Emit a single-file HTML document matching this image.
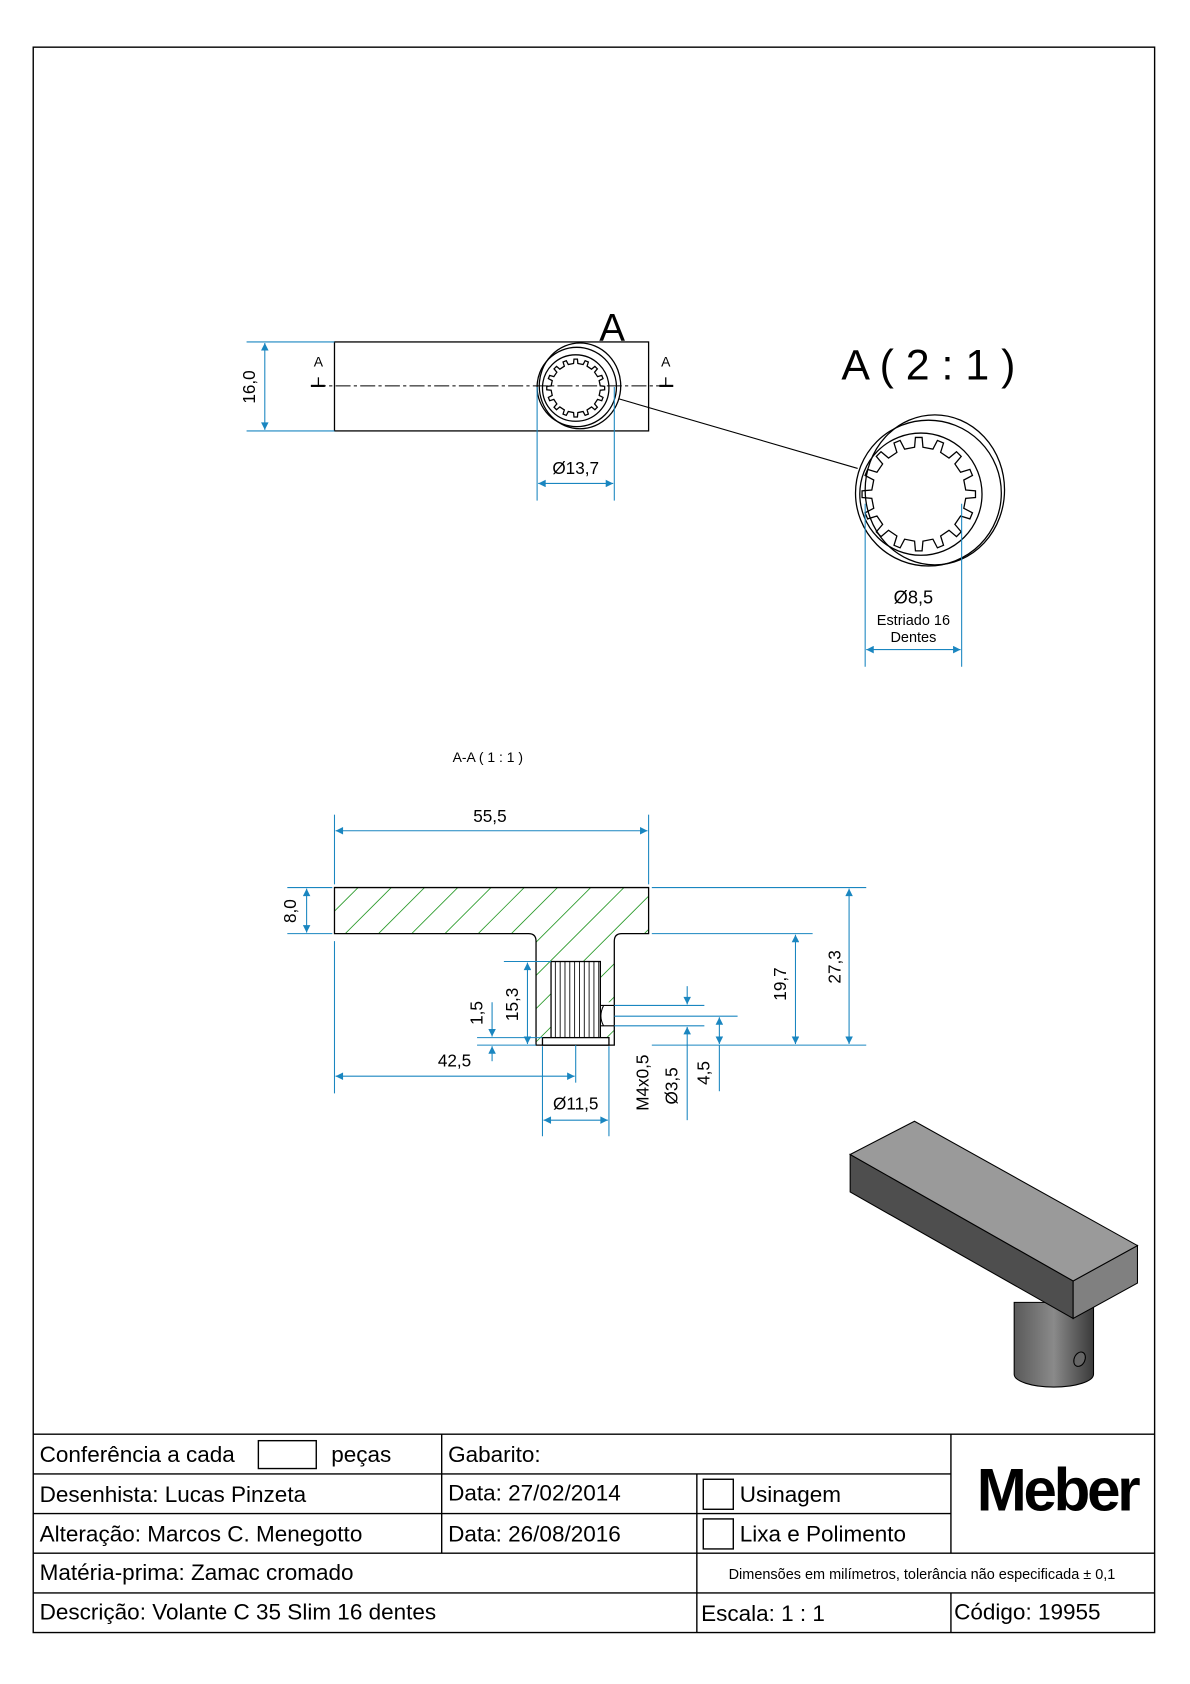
<!DOCTYPE html>
<html><head><meta charset="utf-8"><style>
html,body{margin:0;padding:0;background:#fff;}
svg{display:block;}
text{font-family:"Liberation Sans",sans-serif;}
</style></head><body>
<svg id="s" width="1190" height="1684" viewBox="0 0 1110 1571" preserveAspectRatio="none" xmlns="http://www.w3.org/2000/svg">
<defs>
<marker id="ar" viewBox="0 0 10 10" refX="10" refY="5" markerWidth="9" markerHeight="7" orient="auto-start-reverse" markerUnits="userSpaceOnUse"><path d="M0,0 L10,5 L0,10 z" fill="#1a86c0"/></marker>
<linearGradient id="cyl" x1="0" x2="1"><stop offset="0" stop-color="#5a5a5a"/><stop offset="0.5" stop-color="#8a8a8a"/><stop offset="1" stop-color="#3a3a3a"/></linearGradient>
<clipPath id="secClip"><path d="M312,828 H605 V871 H580 Q573,871 573,878 V975 H500 V878 Q500,871 493,871 H312 Z"/></clipPath>
</defs>
<rect x="31" y="44" width="1046" height="1479" fill="none" stroke="#000" stroke-width="1.3"/>

<g stroke="#000" fill="none" stroke-width="1.2">
<rect x="312" y="319" width="293" height="83"/>
<line x1="290" y1="360" x2="628" y2="360" stroke-dasharray="14,3,3,3" stroke-width="1"/>
<line x1="290" y1="360" x2="303" y2="360" stroke-width="2"/>
<line x1="297" y1="352" x2="297" y2="360"/>
<line x1="615" y1="360" x2="628" y2="360" stroke-width="2"/>
<line x1="621" y1="352" x2="621" y2="360"/>
<ellipse cx="541" cy="360" rx="38" ry="40"/>
<circle cx="538" cy="361" r="37"/>
<circle cx="537" cy="362" r="31"/>
<path id="spl1" d=""/>
<line x1="577" y1="372" x2="800" y2="437" stroke-width="1"/>
<ellipse cx="872" cy="457" rx="65" ry="70"/>
<circle cx="866" cy="460" r="68"/>
<circle cx="859" cy="461" r="57"/>
<path id="spl2" d=""/>
</g>
<text x="571" y="318" font-size="36" text-anchor="middle">A</text>
<text x="297" y="342" font-size="13" text-anchor="middle">A</text>
<text x="621" y="342" font-size="13" text-anchor="middle">A</text>
<text x="866" y="354" font-size="40" text-anchor="middle">A ( 2 : 1 )</text>

<g stroke="#1a86c0" stroke-width="1" fill="none">
<line x1="230" y1="319" x2="312" y2="319"/><line x1="230" y1="402" x2="312" y2="402"/>
<line x1="247" y1="320" x2="247" y2="401" marker-start="url(#ar)" marker-end="url(#ar)"/>
<line x1="501" y1="361" x2="501" y2="467"/><line x1="573" y1="361" x2="573" y2="467"/>
<line x1="502" y1="451" x2="572" y2="451" marker-start="url(#ar)" marker-end="url(#ar)"/>
<line x1="807" y1="470" x2="807" y2="622"/><line x1="897" y1="470" x2="897" y2="622"/>
<line x1="808" y1="606" x2="896" y2="606" marker-start="url(#ar)" marker-end="url(#ar)"/>
</g>
<text transform="translate(238,361) rotate(-90)" font-size="16" text-anchor="middle">16,0</text>
<text x="537" y="442" font-size="16" text-anchor="middle">Ø13,7</text>
<text x="852" y="563" font-size="17" text-anchor="middle">Ø8,5</text>
<text x="852" y="583" font-size="13.5" text-anchor="middle">Estriado 16</text>
<text x="852" y="599" font-size="13.5" text-anchor="middle">Dentes</text>

<text x="455" y="711" font-size="13" text-anchor="middle">A-A ( 1 : 1 )</text>

<g id="hatch" clip-path="url(#secClip)" stroke="#2a9a2a" stroke-width="0.8"></g>
<rect x="514" y="897" width="46" height="71" fill="#fff"/>
<rect x="560" y="935" width="13" height="25" fill="#fff"/>
<g stroke="#000" fill="none" stroke-width="1.2">
<path d="M312,828 H605 V871 H580 Q573,871 573,878 V975 H500 V878 Q500,871 493,871 H312 Z"/>
<rect x="514" y="897" width="46" height="71"/>
<rect x="506" y="968" width="62" height="7" fill="#fff"/>
<g id="bore" stroke-width="0.8"></g>
<path d="M560,938 H573 M560,957 H573 M563,938 Q558,948 563,957" stroke-width="1"/>
</g>
<g stroke="#1a86c0" stroke-width="1" fill="none">
<line x1="312" y1="760" x2="312" y2="825"/><line x1="605" y1="760" x2="605" y2="825"/>
<line x1="313" y1="775" x2="604" y2="775" marker-start="url(#ar)" marker-end="url(#ar)"/>
<line x1="268" y1="828" x2="310" y2="828"/><line x1="268" y1="871" x2="310" y2="871"/>
<line x1="286" y1="829" x2="286" y2="870" marker-start="url(#ar)" marker-end="url(#ar)"/>
<line x1="608" y1="828" x2="808" y2="828"/><line x1="608" y1="975" x2="808" y2="975"/>
<line x1="792" y1="829" x2="792" y2="974" marker-start="url(#ar)" marker-end="url(#ar)"/>
<line x1="608" y1="871" x2="758" y2="871"/>
<line x1="742" y1="872" x2="742" y2="974" marker-start="url(#ar)" marker-end="url(#ar)"/>
<line x1="470" y1="897" x2="514" y2="897"/>
<line x1="492" y1="898" x2="492" y2="974" marker-start="url(#ar)" marker-end="url(#ar)"/>
<line x1="445" y1="968" x2="506" y2="968"/><line x1="445" y1="975" x2="500" y2="975"/>
<line x1="459" y1="935" x2="459" y2="967" marker-end="url(#ar)"/>
<line x1="459" y1="990" x2="459" y2="976" marker-end="url(#ar)"/>
<line x1="312" y1="878" x2="312" y2="1020"/>
<line x1="537" y1="975" x2="537" y2="1010"/>
<line x1="313" y1="1004" x2="536" y2="1004" marker-start="url(#ar)" marker-end="url(#ar)"/>
<line x1="506" y1="976" x2="506" y2="1060"/><line x1="568" y1="976" x2="568" y2="1060"/>
<line x1="507" y1="1045" x2="567" y2="1045" marker-start="url(#ar)" marker-end="url(#ar)"/>
<line x1="573" y1="938" x2="657" y2="938"/><line x1="573" y1="948" x2="688" y2="948"/><line x1="573" y1="957" x2="657" y2="957"/>
<line x1="641" y1="920" x2="641" y2="937" marker-end="url(#ar)"/>
<line x1="641" y1="1045" x2="641" y2="958" marker-end="url(#ar)"/>
<line x1="671" y1="949" x2="671" y2="974" marker-start="url(#ar)" marker-end="url(#ar)"/>
<line x1="671" y1="975" x2="671" y2="1018"/>
</g>
<text x="457" y="767" font-size="16" text-anchor="middle">55,5</text>
<text transform="translate(276,850) rotate(-90)" font-size="16" text-anchor="middle">8,0</text>
<text transform="translate(784,902) rotate(-90)" font-size="16" text-anchor="middle">27,3</text>
<text transform="translate(733,918) rotate(-90)" font-size="16" text-anchor="middle">19,7</text>
<text transform="translate(483,937) rotate(-90)" font-size="16" text-anchor="middle">15,3</text>
<text transform="translate(450,945) rotate(-90)" font-size="16" text-anchor="middle">1,5</text>
<text x="424" y="995" font-size="16" text-anchor="middle">42,5</text>
<text x="537" y="1035" font-size="16" text-anchor="middle">Ø11,5</text>
<text transform="translate(605,1010) rotate(-90)" font-size="16" text-anchor="middle">M4x0,5</text>
<text transform="translate(632,1013) rotate(-90)" font-size="16" text-anchor="middle">Ø3,5</text>
<text transform="translate(662,1001) rotate(-90)" font-size="16" text-anchor="middle">4,5</text>

<g stroke="#000" stroke-width="1">
<path d="M946,1215 V1282 A37,12 0 0 0 1020,1282 V1215 Z" fill="url(#cyl)"/>
<ellipse cx="1007" cy="1268" rx="5" ry="7" fill="#666" transform="rotate(25 1007 1268)"/>
<polygon points="793,1077 1001,1195 1001,1230 793,1112" fill="#4e4e4e"/>
<polygon points="1001,1195 1061,1162 1061,1197 1001,1230" fill="#808080"/>
<polygon points="793,1077 853,1046 1061,1162 1001,1195" fill="#9a9a9a"/>
</g>

<g stroke="#000" stroke-width="1.3" fill="none">
<line x1="31" y1="1338" x2="1077" y2="1338"/>
<line x1="31" y1="1375" x2="887" y2="1375"/>
<line x1="31" y1="1412" x2="887" y2="1412"/>
<line x1="31" y1="1449" x2="1077" y2="1449"/>
<line x1="31" y1="1486" x2="1077" y2="1486"/>
<line x1="412" y1="1338" x2="412" y2="1449"/>
<line x1="650" y1="1375" x2="650" y2="1523"/>
<line x1="887" y1="1338" x2="887" y2="1449"/>
<line x1="887" y1="1486" x2="887" y2="1523"/>
<rect x="241" y="1344" width="54" height="26"/>
<rect x="656" y="1380" width="28" height="28"/>
<rect x="656" y="1417" width="28" height="28"/>
</g>
<g font-size="21">
<text x="37" y="1364">Conferência a cada</text>
<text x="309" y="1364">peças</text>
<text x="418" y="1364">Gabarito:</text>
<text x="37" y="1401">Desenhista: Lucas Pinzeta</text>
<text x="418" y="1400">Data: 27/02/2014</text>
<text x="690" y="1401">Usinagem</text>
<text x="37" y="1438">Alteração: Marcos C. Menegotto</text>
<text x="418" y="1438">Data: 26/08/2016</text>
<text x="690" y="1438">Lixa e Polimento</text>
<text x="37" y="1474">Matéria-prima: Zamac cromado</text>
<text x="37" y="1511">Descrição: Volante C 35 Slim 16 dentes</text>
<text x="654" y="1512">Escala: 1 : 1</text>
<text x="890" y="1511">Código: 19955</text>
</g>
<text x="860" y="1473" font-size="13.5" text-anchor="middle">Dimensões em milímetros, tolerância não especificada ± 0,1</text>
<text x="986" y="1409" font-size="56" font-weight="bold" text-anchor="middle" letter-spacing="-3">Meber</text>
</svg>
<script>
function spline(cx,cy,ro,ri,n){
 var pts=[];for(var k=0;k<n;k++){var a=k*2*Math.PI/n;
 var s=[[ri,-0.45],[ro,-0.3],[ro,0.3],[ri,0.45]];
 for(var j=0;j<4;j++){var ang=a+s[j][1]*Math.PI/n;pts.push([cx+s[j][0]*Math.cos(ang),cy+s[j][0]*Math.sin(ang)]);}}
 return "M"+pts.map(function(p){return p[0].toFixed(1)+","+p[1].toFixed(1)}).join(" L")+" Z";}
document.getElementById("spl1").setAttribute("d",spline(537,362,27,23,16));
document.getElementById("spl2").setAttribute("d",spline(857,461,53,44,16));
var h=document.getElementById("hatch"),ns="http://www.w3.org/2000/svg";
for(var x=100;x<720;x+=31){var l=document.createElementNS(ns,"line");l.setAttribute("x1",x);l.setAttribute("y1",1000);l.setAttribute("x2",x+172);l.setAttribute("y2",828);h.appendChild(l);}
var b=document.getElementById("bore");
for(var x=518;x<560;x+=4.5){var l=document.createElementNS(ns,"line");l.setAttribute("x1",x);l.setAttribute("y1",897);l.setAttribute("x2",x);l.setAttribute("y2",968);b.appendChild(l);}
</script>
</body></html>
